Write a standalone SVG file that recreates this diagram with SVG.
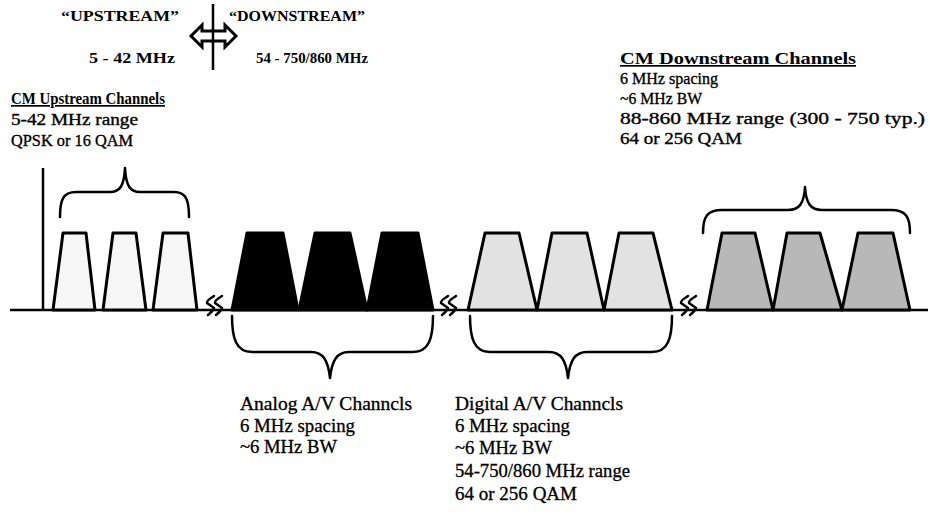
<svg xmlns="http://www.w3.org/2000/svg" width="930" height="522" viewBox="0 0 930 522">
<style>
text{font-family:"Liberation Serif","Times New Roman",serif;fill:#000}
.t{font-size:17px;stroke:#000;stroke-width:0.35}
.l{font-size:16px;stroke:#000;stroke-width:0.35}
.b{font-size:18px;stroke:#000;stroke-width:0.3}
.h{font-size:17px;font-weight:bold;text-decoration:underline}
.s{font-size:15px;font-weight:bold}
.tr{stroke:#000;stroke-width:3;stroke-linejoin:round}
.up{fill:#f6f6f6}
.an{fill:#000}
.dg{fill:#e2e2e2}
.dn{fill:#b8b8b8}
.br{fill:none;stroke:#000;stroke-width:2.5;stroke-linecap:round;stroke-linejoin:round}
.ln{fill:none;stroke:#000;stroke-width:2.5}
</style>
<rect width="930" height="522" fill="#fff"/>
<g id="legend">
<text class="s" x="61" y="21" textLength="118" lengthAdjust="spacingAndGlyphs">“UPSTREAM”</text>
<text class="s" x="229" y="21" textLength="136" lengthAdjust="spacingAndGlyphs">“DOWNSTREAM”</text>
<text class="s" x="89" y="63" textLength="86" lengthAdjust="spacingAndGlyphs">5 - 42 MHz</text>
<text class="s" x="256" y="63" textLength="112" lengthAdjust="spacingAndGlyphs">54 - 750/860 MHz</text>
<line class="ln" x1="213" y1="4" x2="213" y2="70"/>
<polygon points="191,36 202,25 202,31 225,31 225,25 236,36 225,47 225,41 202,41 202,47" fill="#fff" stroke="#000" stroke-width="3" stroke-linejoin="miter"/>
<line x1="213" y1="30" x2="213" y2="42" stroke="#000" stroke-width="2.5"/>
</g>
<g id="axis">
<line class="ln" x1="10" y1="310" x2="928" y2="310" stroke-width="3"/>
<line class="ln" x1="43" y1="168" x2="43" y2="310" stroke-width="2"/>
</g>
<g id="upstream-channels">
<polygon class="tr up" points="53,310 63,233 86,233 95,310"/>
<polygon class="tr up" points="103,310 113,233 136,233 146,310"/>
<polygon class="tr up" points="153,310 163,233 188,233 197,310"/>
</g>
<g id="analog-channels">
<polygon class="tr an" points="232,310 247,233 283,233 298,310"/>
<polygon class="tr an" points="299,310 315,233 350,233 367,310"/>
<polygon class="tr an" points="367,310 382,233 418,233 433,310"/>
</g>
<g id="digital-channels">
<polygon class="tr dg" points="468,310 485,233 519,233 537,310"/>
<polygon class="tr dg" points="537,310 552,233 587,233 604,310"/>
<polygon class="tr dg" points="604,310 619,233 653,233 672,310"/>
</g>
<g id="downstream-channels">
<polygon class="tr dn" points="707,310 722,233 755,233 773,310"/>
<polygon class="tr dn" points="773,310 787,233 820,233 842,310"/>
<polygon class="tr dn" points="842,310 858,233 893,233 910,310"/>
</g>
<g id="breaks" class="br" stroke-width="2">
<path d="M214,296 Q206,301 207,303 L214,308 Q213,311 208,315"/>
<path d="M222,296 Q214,301 215,303 L222,308 Q221,311 216,315"/>
<path d="M448,296 Q440,301 441,303 L448,308 Q447,311 442,315"/>
<path d="M456,296 Q448,301 449,303 L456,308 Q455,311 450,315"/>
<path d="M688,296 Q680,301 681,303 L688,308 Q687,311 682,315"/>
<path d="M696,296 Q688,301 689,303 L696,308 Q695,311 690,315"/>
</g>
<g id="braces">
<path class="br" d="M60,217 C60,200 63,192 76,192 L110,192 C120,192 124,186 125,168 C126,186 130,192 140,192 L174,192 C186,192 189,200 189,217"/>
<path class="br" d="M703,233 C703,217 707,210 722,210 L788,210 C799,210 804,204 805,187 C806,204 811,210 822,210 L891,210 C906,210 910,217 910,233"/>
<path class="br" d="M232,316 C232,338 236,352 252,352 L311,352 C323,352 328,360 330,378 C332,360 337,352 349,352 L413,352 C429,352 433,338 433,316"/>
<path class="br" d="M470,316 C470,338 474,352 490,352 L549,352 C561,352 566,360 568,378 C570,360 575,352 587,352 L652,352 C668,352 672,338 672,316"/>
</g>
<g id="upstream-label">
<text class="h" x="11" y="104" font-size="16" textLength="154" lengthAdjust="spacingAndGlyphs">CM Upstream Channels</text>
<text class="l" x="11" y="125" textLength="127" lengthAdjust="spacingAndGlyphs">5-42 MHz range</text>
<text class="l" x="11" y="146" textLength="122" lengthAdjust="spacingAndGlyphs">QPSK or 16 QAM</text>
</g>
<g id="downstream-label">
<text class="h" x="620" y="64" textLength="236" lengthAdjust="spacingAndGlyphs">CM Downstream Channels</text>
<text class="t" x="620" y="84" textLength="98" lengthAdjust="spacingAndGlyphs">6 MHz spacing</text>
<text class="t" x="620" y="104" textLength="82" lengthAdjust="spacingAndGlyphs">~6 MHz BW</text>
<text class="t" x="620" y="124" textLength="305" lengthAdjust="spacingAndGlyphs">88-860 MHz range (300 - 750 typ.)</text>
<text class="t" x="620" y="144" textLength="122" lengthAdjust="spacingAndGlyphs">64 or 256 QAM</text>
</g>
<g id="analog-label">
<text class="b" x="240" y="410" textLength="172" lengthAdjust="spacingAndGlyphs">Analog A/V Channcls</text>
<text class="b" x="240" y="432" textLength="115" lengthAdjust="spacingAndGlyphs">6 MHz spacing</text>
<text class="b" x="240" y="453" textLength="97" lengthAdjust="spacingAndGlyphs">~6 MHz BW</text>
</g>
<g id="digital-label">
<text class="b" x="455" y="410" textLength="168" lengthAdjust="spacingAndGlyphs">Digital A/V Channcls</text>
<text class="b" x="455" y="432" textLength="115" lengthAdjust="spacingAndGlyphs">6 MHz spacing</text>
<text class="b" x="455" y="454" textLength="97" lengthAdjust="spacingAndGlyphs">~6 MHz BW</text>
<text class="b" x="455" y="477" textLength="175" lengthAdjust="spacingAndGlyphs">54-750/860 MHz range</text>
<text class="b" x="455" y="500" textLength="122" lengthAdjust="spacingAndGlyphs">64 or 256 QAM</text>
</g>
</svg>
